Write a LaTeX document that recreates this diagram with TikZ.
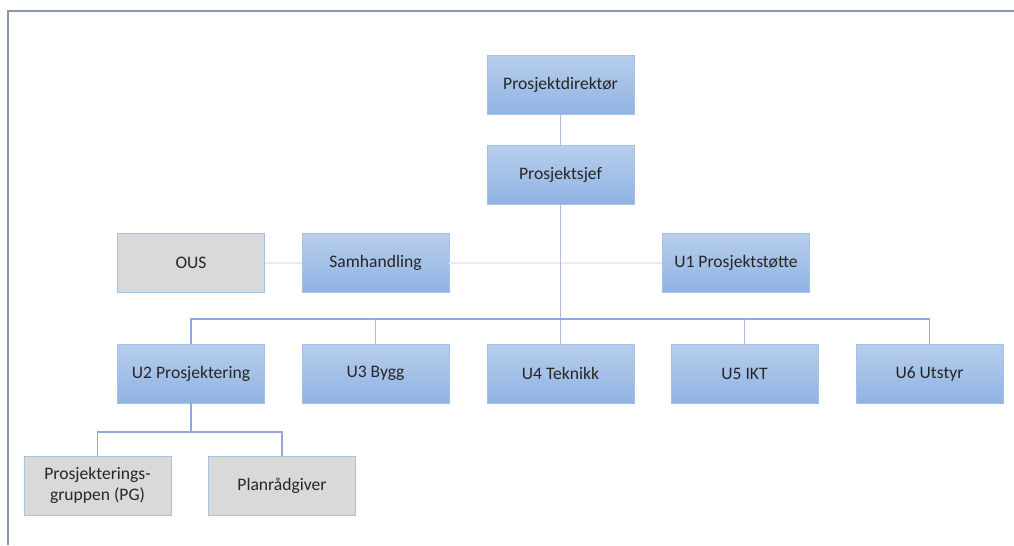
\documentclass[tikz,border=0pt]{standalone}
\usepackage{fontspec}
\setmainfont{Carlito}
\usetikzlibrary{positioning}

\definecolor{boxtop}{RGB}{184,206,236}
\definecolor{boxbot}{RGB}{143,179,227}
\definecolor{boxline}{RGB}{164,193,232}
\definecolor{greyfill}{RGB}{217,217,217}
\definecolor{busline}{RGB}{143,170,218}
\definecolor{softline}{RGB}{178,190,220}
\definecolor{faintline}{RGB}{232,235,240}
\definecolor{frameline}{RGB}{136,152,176}

\tikzset{
  unit/.style={rectangle,draw=boxline,line width=0.5pt,top color=boxtop,bottom color=boxbot,
    minimum width=2.94cm,minimum height=1.18cm,font=\fontsize{10}{12}\selectfont,align=center,text=black!85},
  outside/.style={unit,top color=greyfill,bottom color=greyfill,fill=greyfill},
  link/.style={draw=busline,line width=0.8pt},
  softlink/.style={draw=softline,line width=0.8pt},
}

\begin{document}
\begin{tikzpicture}
        \useasboundingbox (0,0) rectangle (20.28,10.9);
        % frame
        \draw[frameline,line width=1.2pt] (0.16,0) -- (0.16,10.68) -- (20.28,10.68);
        \path
        % top
        +(11.21, 9.20) node[unit]  (dir) {Prosjektdirektør}
        +(11.21, 7.40) node[unit]  (sjef) {Prosjektsjef}
        % staff row
        +(3.82, 5.64)  node[outside]  (ous) {OUS}
        +(7.51, 5.64)  node[unit]  (samh) {Samhandling}
        +(14.72, 5.64) node[unit]  (u1) {U1 Prosjektstøtte}
        % sub projects
        +(3.82, 3.43)  node[unit]  (u2) {U2 Prosjektering}
        +(7.51, 3.43)  node[unit]  (u3) {U3 Bygg}
        +(11.21, 3.43) node[unit]  (u4) {U4 Teknikk}
        +(14.89, 3.43) node[unit]  (u5) {U5 IKT}
        +(18.59, 3.43) node[unit]  (u6) {U6 Utstyr}
        % under U2
        +(1.95, 1.19)  node[outside]  (pg) {Prosjekterings-\\gruppen (PG)}
        +(5.64, 1.19)  node[outside]  (plan) {Planrådgiver};

        \coordinate (bus) at (11.21,4.52);
        \coordinate (bus2) at (3.82,2.26);

        \draw[faintline,line width=0.8pt] (ous) -- (samh);
        \draw[faintline,line width=0.8pt] (samh) -- (u1);
        \draw[softlink] (dir) -- (sjef);
        \draw[softlink] (sjef) -- (u4);
        \draw[link] (u2.north) |- (bus) -| (u6.north);
        \draw[softlink] (u3.north) -- (u3.north |- bus);
        \draw[softlink] (u5.north) -- (u5.north |- bus);
        \draw[link] (u2) -- (bus2);
        \draw[link] (pg.north) |- (bus2) -| (plan.north);
    \end{tikzpicture}
\end{document}
